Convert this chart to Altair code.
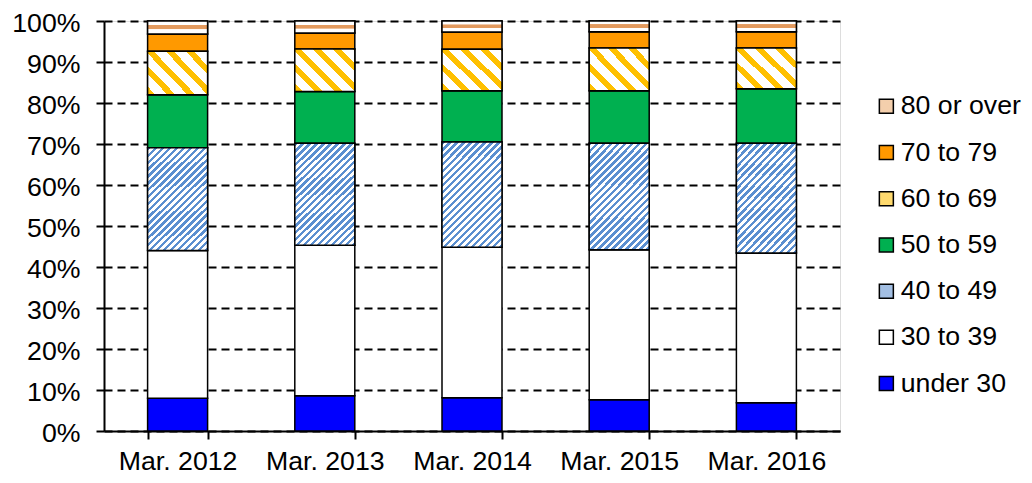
import altair as alt
import pandas as pd

years = ["Mar. 2012", "Mar. 2013", "Mar. 2014", "Mar. 2015", "Mar. 2016"]
groups = ["under 30", "30 to 39", "40 to 49", "50 to 59", "60 to 69", "70 to 79", "80 or over"]

under_30 = [8.0, 8.6, 8.1, 7.6, 6.9]
age_30s = [36.0, 36.7, 36.7, 36.6, 36.5]
age_40s = [25.1, 24.9, 25.7, 26.0, 26.8]
age_50s = [12.9, 12.6, 12.5, 12.8, 13.3]
age_60s = [10.6, 10.4, 10.1, 10.4, 9.9]
age_70s = [4.2, 3.9, 4.2, 4.0, 4.0]
age_80_over = [3.2, 2.9, 2.7, 2.6, 2.6]

series = [under_30, age_30s, age_40s, age_50s, age_60s, age_70s, age_80_over]

legend_colors = ["#0000ff", "#ffffff", "#a3bfe3", "#00b050", "#ffda6e", "#ff9900", "#f4cfac"]

rows = []
for gi, (g, vals) in enumerate(zip(groups, series)):
    for y, v in zip(years, vals):
        rows.append({"year": y, "age": g, "idx": gi, "value": v})
df = pd.DataFrame(rows)

FONT = "Liberation Sans"
FS = 26.7


def stripes(c1, c2, period, frac, w, h, direction):
    # diagonal 45-degree stripes using a linear gradient in bounding-box units
    r = h / w
    k = (1 + r) / (1 + r * r)
    total = w + h
    stops = []
    t = 0.0
    while t < 1.0:
        a = t
        b = min(1.0, t + frac * period / total)
        c = min(1.0, t + period / total)
        stops += [
            {"offset": round(a, 4), "color": c1},
            {"offset": round(b, 4), "color": c1},
            {"offset": round(b, 4), "color": c2},
            {"offset": round(c, 4), "color": c2},
        ]
        t = c
    if direction == "/":
        return {"gradient": "linear", "x1": 0, "y1": 0, "x2": k, "y2": k * r, "stops": stops}
    return {"gradient": "linear", "x1": 0, "y1": 1, "x2": k, "y2": 1 - k * r, "stops": stops}


def band(c_bg, c_band, lo, hi):
    return {
        "gradient": "linear", "x1": 0, "y1": 0, "x2": 0, "y2": 1,
        "stops": [
            {"offset": 0, "color": c_bg},
            {"offset": lo, "color": c_bg},
            {"offset": lo + 0.03, "color": c_band},
            {"offset": hi - 0.03, "color": c_band},
            {"offset": hi, "color": c_bg},
            {"offset": 1, "color": c_bg},
        ],
    }


grad_40 = stripes("#5b8fd0", "#ffffff", 7, 0.5, 60, 105, "/")
grad_60 = stripes("#ffc000", "#ffffff", 20, 0.4, 60, 42, "\\")
grad_80 = band("#ffffff", "#e39a5e", 0.3, 0.65)

base = alt.Chart(df).transform_stack(
    stack="value", groupby=["year"], as_=["y0", "y1"], sort=[alt.SortField("idx", order="ascending")]
).encode(
    x=alt.X(
        "year:N",
        sort=years,
        title=None,
        scale=alt.Scale(paddingInner=0.5924, paddingOuter=0.2962),
        axis=alt.Axis(
            labelAngle=0, labelFont=FONT, labelFontSize=FS, labelColor="black",
            domainColor="black", domainWidth=2, tickColor="black", tickWidth=2,
            tickSize=8, tickBand="extent", labelPadding=9.5, grid=False,
        ),
    ),
    y=alt.Y(
        "y0:Q",
        title=None,
        scale=alt.Scale(domain=[0, 100], nice=False),
        axis=alt.Axis(
            values=list(range(0, 101, 10)), labelExpr="datum.value + '%'",
            labelFont=FONT, labelFontSize=FS, labelColor="black", labelOffset=2,
            domainColor="black", domainWidth=2, tickColor="black", tickWidth=2,
            tickSize=8, labelPadding=16,
            grid=True, gridColor="black", gridWidth=2, gridDash=[8, 5], gridOpacity=1,
        ),
    ),
    y2="y1:Q",
)

bars = base.mark_bar(stroke="black", strokeWidth=1.5, opacity=1).encode(
    color=alt.Color(
        "age:N",
        scale=alt.Scale(domain=groups[::-1], range=legend_colors[::-1]),
        legend=alt.Legend(
            title=None, orient="none", legendX=769, legendY=72,
            symbolType="square", symbolSize=196, symbolStrokeColor="black",
            symbolStrokeWidth=1.5, symbolOpacity=1,
            labelFont=FONT, labelFontSize=FS, labelColor="black",
            labelOffset=1, rowPadding=18.2, padding=0,
        ),
    )
)

ov40 = base.transform_filter(alt.datum.age == "40 to 49").mark_bar(
    fill=grad_40, stroke="black", strokeWidth=1.5)
ov60 = base.transform_filter(alt.datum.age == "60 to 69").mark_bar(
    fill=grad_60, stroke="black", strokeWidth=1.5)
ov80 = base.transform_filter(alt.datum.age == "80 or over").mark_bar(
    fill=grad_80, stroke="black", strokeWidth=1.5)

chart = alt.layer(bars, ov40, ov60, ov80).properties(
    width=736, height=410,
    autosize=alt.AutoSizeParams(type="none"),
    padding={"left": 96, "top": 13, "right": 184, "bottom": 44},
).configure_view(stroke=None).configure(background="white")

chart.save("out.html", embed_options={"renderer": "svg", "actions": False})
